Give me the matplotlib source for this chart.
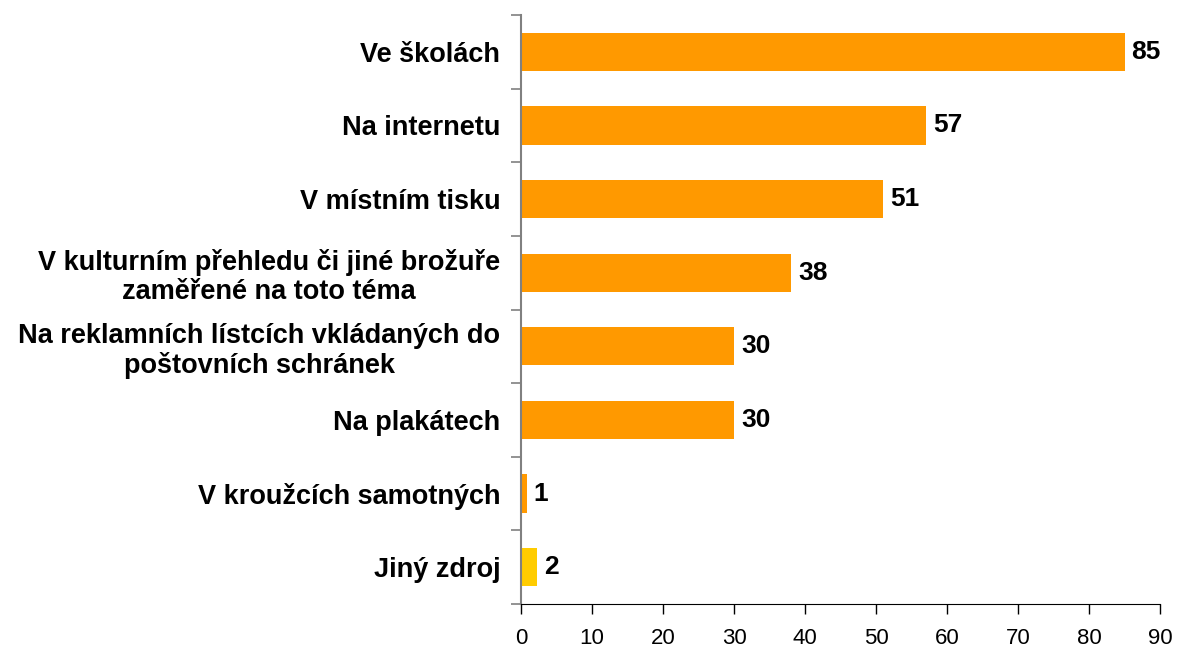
import matplotlib.pyplot as plt
import numpy as np

categories = ["Ve školách", "Na internetu", "V místním tisku",
              "V kulturním přehledu či jiné brožuře\nzaměřené na toto téma",
              "Na reklamních lístcích vkládaných do\npoštovních schránek",
              "Na plakátech", "V kroužcích samotných", "Jiný zdroj"]
values = [85, 57, 51, 38, 30, 30, 0.8, 2.2]
labels = ["85", "57", "51", "38", "30", "30", "1", "2"]
colors = ["#FF9900"] * 7 + ["#FFCC00"]

plt.rcParams['font.family'] = ['Liberation Sans', 'DejaVu Sans']

fig = plt.figure(figsize=(11.79, 6.53), dpi=100)
ax = fig.add_axes([521 / 1179, 1 - 604 / 653, 639 / 1179, 589 / 653])

y = np.arange(len(categories))
ax.barh(y, values, height=0.52, color=colors, zorder=2)
for yi, v, lab in zip(y, values, labels):
    ax.text(v + 1.0, yi, lab, va='center', ha='left', fontsize=19, fontweight='bold')

ax.set_ylim(len(categories) - 0.5, -0.5)
ax.set_xlim(0, 90)
ax.set_xticks(np.arange(0, 91, 10))
ax.set_yticks(y)
ax.set_yticklabels(categories, fontsize=19.5, fontweight='bold',
                   multialignment='center', linespacing=1.15)
ax.set_yticks(np.arange(-0.5, len(categories), 1), minor=True)
ax.tick_params(axis='y', which='major', length=0, pad=15)
ax.tick_params(axis='y', which='minor', length=7, color='#808080', width=1.2)
ax.tick_params(axis='x', length=7, width=1, labelsize=16, pad=10)

for s in ['top', 'right']:
    ax.spines[s].set_visible(False)
ax.spines['left'].set_color('#808080')
ax.spines['left'].set_linewidth(1.5)
ax.spines['bottom'].set_color('black')

fig.savefig("out.png", dpi=100)
